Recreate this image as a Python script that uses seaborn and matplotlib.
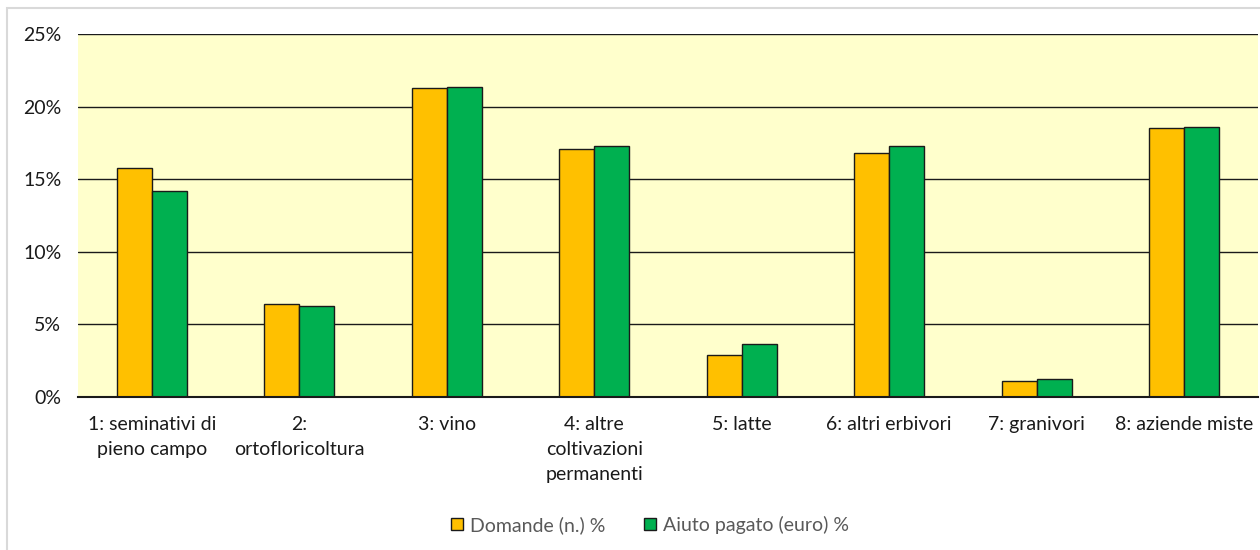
import matplotlib
matplotlib.use("Agg")
import matplotlib.pyplot as plt
import seaborn as sns
import pandas as pd
from matplotlib.patches import Rectangle, Patch
from matplotlib.ticker import FuncFormatter, MultipleLocator

categories = [
    "1: seminativi di\npieno campo",
    "2:\nortofloricoltura",
    "3: vino",
    "4: altre\ncoltivazioni\npermanenti",
    "5: latte",
    "6: altri erbivori",
    "7: granivori",
    "8: aziende miste",
]
series_names = ["Domande (n.) %", "Aiuto pagato (euro) %"]
domande = [15.8, 6.4, 21.3, 17.1, 2.9, 16.8, 1.1, 18.5]
aiuto = [14.2, 6.3, 21.35, 17.3, 3.65, 17.3, 1.25, 18.6]
colors = ["#FFC000", "#00B050"]

df = pd.DataFrame({
    "cat": categories * 2,
    "serie": [series_names[0]] * len(categories) + [series_names[1]] * len(categories),
    "val": domande + aiuto,
})

sns.set_theme(style="white")
plt.rcParams["font.family"] = ["Lato", "DejaVu Sans"]

fs = 14

fig = plt.figure(figsize=(12.6, 5.5), dpi=100)
fig.patches.append(Rectangle((7 / 1260, -0.01), 1.02, 1 - 8 / 550 + 0.01,
                             transform=fig.transFigure, fill=False,
                             edgecolor="#D9D9D9", linewidth=1.5, zorder=0))
ax = fig.add_axes([78 / 1260, 1 - 397 / 550, 1180 / 1260, 363 / 550])
ax.set_facecolor("#FFFFCC")

sns.barplot(data=df, x="cat", y="val", hue="serie", palette=colors,
            saturation=1, width=0.475, ax=ax, edgecolor="#1a1a1a", linewidth=1.0,
            legend=False, zorder=3)

ax.set_ylim(0, 25)
ax.set_xlim(-0.5, len(categories) - 0.5)
ax.yaxis.set_major_locator(MultipleLocator(5))
ax.yaxis.set_major_formatter(FuncFormatter(lambda v, p: f"{v:.0f}%"))
ax.grid(axis="y", color="#1a1a1a", linewidth=1.0, zorder=0)
ax.set_axisbelow(True)
for s in ["left", "right", "top"]:
    ax.spines[s].set_visible(False)
ax.spines["bottom"].set_color("#1a1a1a")
ax.spines["bottom"].set_linewidth(1.5)
ax.spines["bottom"].set_zorder(5)
ax.set_xlabel("")
ax.set_ylabel("")
ax.tick_params(axis="both", length=0, labelsize=fs, labelcolor="#1a1a1a")
ax.tick_params(axis="y", pad=12)
ax.tick_params(axis="x", pad=14)
for lbl in ax.get_xticklabels():
    lbl.set_linespacing(1.55)

handles = [Patch(facecolor=c, edgecolor="#1a1a1a", linewidth=1.0) for c in colors]
leg = fig.legend(handles, series_names, loc="center", bbox_to_anchor=(650 / 1260, 1 - 525 / 550),
                 ncol=2, frameon=False, fontsize=fs, handlelength=0.62, handleheight=0.62,
                 handletextpad=0.35, columnspacing=2.0)
for t in leg.get_texts():
    t.set_color("#595959")

fig.savefig("out.png", dpi=100)
